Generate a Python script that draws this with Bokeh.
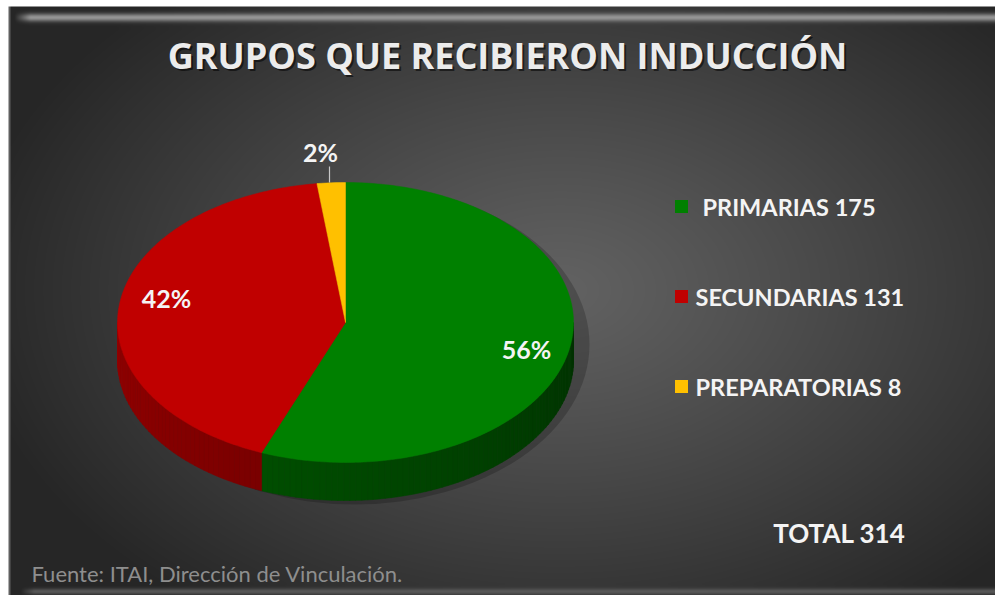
import numpy as np
from bokeh.plotting import figure
from bokeh.models import Range1d
from bokeh.core.properties import value
from bokeh.embed import file_html
from bokeh.resources import INLINE

# ---- chart content -------------------------------------------------------
title_text = "GRUPOS QUE RECIBIERON INDUCCIÓN"
categories = ["PRIMARIAS", "SECUNDARIAS", "PREPARATORIAS"]
counts = [175, 131, 8]
percents = [56, 42, 2]
top_colors = ["#008000", "#c00000", "#ffc000"]
side_rgb = [(0, 128, 0), (200, 0, 0), (255, 192, 0)]
total_text = "TOTAL 314"
source_text = "Fuente: ITAI, Dirección de Vinculación."

W, H = 995, 595


def sy(y):
    """Convert a top-down pixel row into the plot's bottom-up y units."""
    return H - y


p = figure(width=W, height=H, x_range=Range1d(0, W), y_range=Range1d(0, H),
           output_backend="svg", toolbar_location=None, min_border=0)
p.axis.visible = False
p.grid.visible = False
p.outline_line_color = None
p.background_fill_color = "white"
p.border_fill_color = "white"

# ---- dark panel with radial gradient and bevels --------------------------
yy, xx = np.mgrid[0:H, 0:W].astype(float) + 0.5
d = np.sqrt(((xx - 560) / 600.0) ** 2 + ((yy - 290) / 400.0) ** 2)
t = np.clip(d, 0, 1)
val = 98 - 60 * t ** 1.1

# light bevel along the top edge
fade = np.clip((xx - 14) / 16.0, 0, 1)
wtop = np.exp(-((yy - 17.0) / 4.0) ** 2) * fade
val = val + (150 - val) * wtop
# softer light strip along the bottom edge
wbot = np.exp(-((yy - 591) / 3.0) ** 2) * np.clip((xx - 20) / 14.0, 0, 1)
val = val + (88 - val) * wbot
# thin edge on the left
val[:, 8:10] = np.maximum(val[:, 8:10], 95)
# white margin around the panel
val[(xx < 8) | (yy < 6)] = 255

g = np.clip(val, 0, 255).astype(np.uint8)
rgba = np.empty((H, W, 4), dtype=np.uint8)
rgba[..., 0] = g
rgba[..., 1] = g
rgba[..., 2] = g
rgba[..., 3] = 255
img = rgba[::-1].copy().view(dtype=np.uint32).reshape((H, W))
p.image_rgba(image=[img], x=0, y=0, dw=W, dh=H)

# ---- 3D pie ---------------------------------------------------------------
cx, cy, rx, ry, depth = 345.0, 322.0, 228.0, 140.0, 38.0


def ell(theta_deg):
    th = np.radians(theta_deg)
    return cx + rx * np.cos(th), cy - ry * np.sin(th)


# soft shadow to the right of the pie
p.ellipse(x=[cx + 9], y=[sy(cy + depth / 2 + 3)], width=[2 * rx + 14],
          height=[2 * ry + depth + 2], fill_color="black", fill_alpha=0.2,
          line_color=None)

total_pct = float(sum(percents))
bounds = []
acc = 0.0
for pc in percents:
    a0 = 90 - 360 * acc / total_pct
    acc += pc
    a1 = 90 - 360 * acc / total_pct
    bounds.append((a0, a1))

# front walls (only the lower half of the rim is visible)
side_xs, side_ys, side_fc = [], [], []
for (a0, a1), base in zip(bounds, side_rgb):
    lo, hi = min(a0, a1), max(a0, a1)
    for shift in (0, -360, 360):
        s_lo = max(lo + shift, -180)
        s_hi = min(hi + shift, 0)
        if s_hi <= s_lo:
            continue
        steps = max(2, int((s_hi - s_lo) / 1.5))
        ths = np.linspace(s_lo, s_hi, steps + 1)
        for k in range(steps):
            ta, tb = ths[k], ths[k + 1]
            xa, ya = ell(ta)
            xb, yb = ell(tb)
            f = 0.74 - 0.34 * ((ta + tb) / 2 + 180) / 180
            col = "#%02x%02x%02x" % tuple(int(c * f) for c in base)
            side_xs.append([xa, xb, xb, xa])
            side_ys.append([sy(ya), sy(yb), sy(yb + depth), sy(ya + depth)])
            side_fc.append(col)
p.patches(side_xs, side_ys, fill_color=side_fc, line_color=side_fc, line_width=0.6)

# top faces
top_xs, top_ys = [], []
for (a0, a1) in bounds:
    ths = np.linspace(a0, a1, max(4, int(abs(a1 - a0) / 1.0)))
    ex, ey = ell(ths)
    top_xs.append([cx] + list(ex))
    top_ys.append([sy(cy)] + [sy(v) for v in ey])
p.patches(top_xs, top_ys, fill_color=top_colors, line_color=top_colors, line_width=0.5)

# ---- percentage labels -----------------------------------------------------
lab_x = [526, 166, 320]
lab_y = [348, 297, 151]
p.text(x=lab_x, y=[sy(v) for v in lab_y], text=["%d%%" % v for v in percents],
       text_color="#f4f4f4", text_font=value("Lato"), text_font_style="bold",
       text_font_size="25px", text_align="center", text_baseline="middle")
# leader line for the small slice
p.line(x=[329, 329], y=[sy(166), sy(182)], line_color="#c8c8c8", line_width=1.2)

# ---- legend ----------------------------------------------------------------
leg_y = [206, 296, 386]
leg_text_x = [702, 695, 695]
p.rect(x=[681] * 3, y=[sy(v) for v in leg_y], width=13, height=13,
       fill_color=top_colors, line_color=None)
p.text(x=leg_text_x, y=[sy(v) for v in leg_y],
       text=["%s %d" % (c, n) for c, n in zip(categories, counts)],
       text_color="#f4f4f4", text_font=value("Lato"), text_font_style="bold",
       text_font_size="23.5px", text_align="left", text_baseline="middle")

# ---- title, total and source -------------------------------------------------
title_style = dict(text_font=value("Open Sans"), text_font_style="bold",
                   text_font_size="36px", text_align="center",
                   text_baseline="middle")
p.text(x=[509], y=[sy(57)], text=[title_text], text_color="black",
       text_alpha=0.55, **title_style)
p.text(x=[507], y=[sy(55)], text=[title_text], text_color="#ececec",
       **title_style)

p.text(x=[905], y=[sy(532)], text=[total_text], text_color="#f4f4f4",
       text_font=value("Lato"), text_font_style="bold", text_font_size="26px",
       text_align="right", text_baseline="middle")

p.text(x=[31], y=[sy(573)], text=[source_text], text_color="#8e8e8e",
       text_font=value("Lato"), text_font_size="22px",
       text_align="left", text_baseline="middle")

open("out.html", "w").write(file_html(p, INLINE))
